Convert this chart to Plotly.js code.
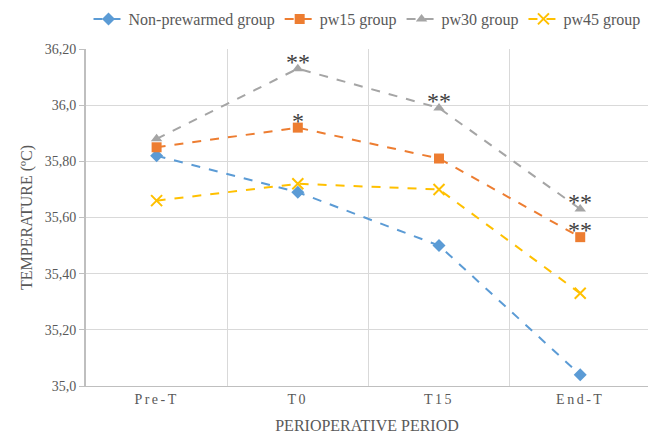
<!DOCTYPE html>
<html><head><meta charset="utf-8">
<script src="https://cdn.plot.ly/plotly-3.0.1.min.js"></script>
<style>body{margin:0}#c{width:648px;height:442px}.xtick text{letter-spacing:2.5px}</style>
</head><body><div id="c"></div>
<script>
const categories = ["Pre-T", "T0", "T15", "End-T"];
const nonPrewarmed = [35.82, 35.69, 35.50, 35.04];
const pw15 = [35.85, 35.92, 35.81, 35.53];
const pw30 = [35.88, 36.13, 35.99, 35.63];
const pw45 = [35.66, 35.72, 35.70, 35.33];
const seriesNames = ["Non-prewarmed group", "pw15 group", "pw30 group", "pw45 group"];
const yTickVals = [35.0, 35.2, 35.4, 35.6, 35.8, 36.0, 36.2];
const yTickText = ["35,0", "35,20", "35,40", "35,60", "35,80", "36,0", "36,20"];
// significance marks: [series index, category index, text]
const sigMarks = [[2, 1, "**"], [2, 2, "**"], [2, 3, "**"], [1, 1, "*"], [1, 3, "**"]];

const FONT = '"Liberation Serif", "Times New Roman", serif';
const data = [nonPrewarmed, pw15, pw30, pw45];
const colors = ["#5B9BD5", "#ED7D31", "#A5A5A5", "#FFC000"];
const symbols = ["diamond", "square", "triangle-up", "x-thin-open"];
const sizes = [10, 10, 10, 11];
const traces = data.map((y, i) => ({
  x: categories, y: y, name: seriesNames[i], type: "scatter", mode: "lines+markers",
  line: {color: colors[i], width: 2, dash: "dash"},
  marker: {color: colors[i], symbol: symbols[i], size: sizes[i], line: {color: colors[i], width: i === 3 ? 2 : 0}}
}));
const annotations = sigMarks.map(([s, c, t]) => ({
  x: categories[c], y: data[s][c], text: t, showarrow: false, yshift: 7,
  font: {family: FONT, size: 24, color: "#404040"}
}));
const layout = {
  width: 648, height: 442,
  margin: {l: 86, r: 0, t: 49, b: 56},
  paper_bgcolor: "#fff", plot_bgcolor: "#fff",
  font: {family: FONT, color: "#595959"},
  showlegend: true,
  legend: {orientation: "h", x: 0.5, xanchor: "center", y: 0.957, yanchor: "middle",
    yref: "container", font: {family: FONT, size: 16, color: "#595959"}},
  xaxis: {type: "category", range: [-0.5, 3.48], tickson: "boundaries", showgrid: true,
    gridcolor: "#D9D9D9", gridwidth: 1, showline: true, linecolor: "#BFBFBF", linewidth: 1,
    ticks: "", tickfont: {family: FONT, size: 14, color: "#595959"}, zeroline: false,
    title: {text: "PERIOPERATIVE PERIOD", font: {family: FONT, size: 16, color: "#595959"}, standoff: 14}},
  yaxis: {range: [35.0, 36.2], tickvals: yTickVals, ticktext: yTickText, showgrid: true,
    gridcolor: "#D9D9D9", showline: true, linecolor: "#BFBFBF", linewidth: 2, ticks: "outside",
    ticklen: 5, tickcolor: "#BFBFBF", tickfont: {family: FONT, size: 14, color: "#595959"}, zeroline: false,
    title: {text: "TEMPERATURE (ºC)", font: {family: FONT, size: 16, color: "#595959"}, standoff: 8}},
  annotations: annotations
};
Plotly.newPlot("c", traces, layout, {displayModeBar: false});
</script></body></html>
